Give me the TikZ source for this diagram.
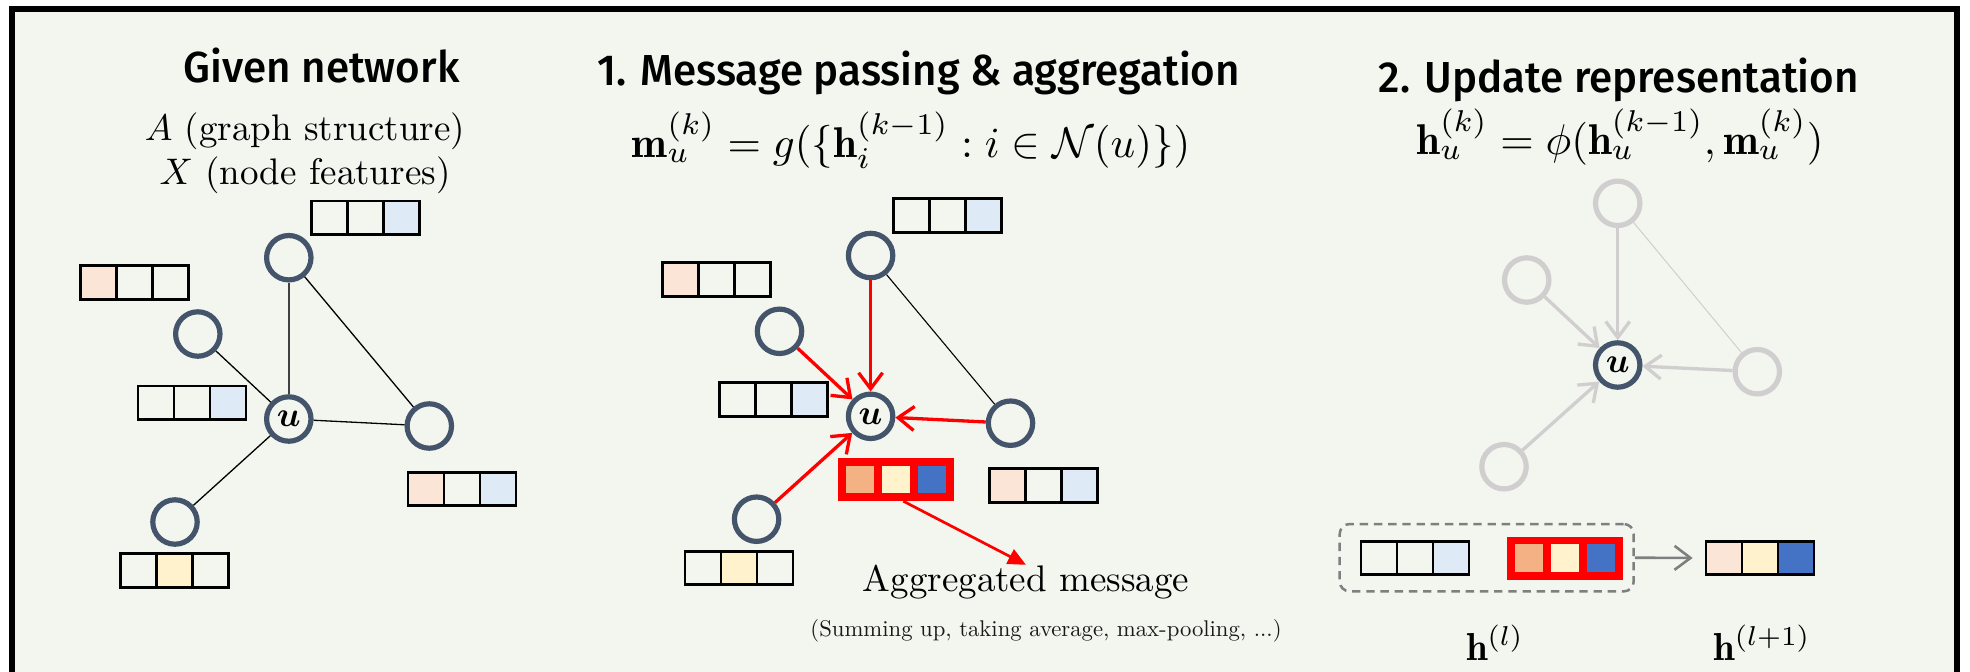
\RequirePackage{fix-cm}
\documentclass[tikz,border=0pt]{standalone}
\usepackage{amsmath}
\usepackage{graphicx}
\usepackage{fontspec}
\newfontfamily\headfont{Fira Sans Medium}[FakeStretch=0.97]
\usetikzlibrary{arrows.meta}

\definecolor{bg}{HTML}{F2F6EF}
\definecolor{nodecol}{HTML}{44546A}
\definecolor{fadecol}{HTML}{D0CECE}
\definecolor{peach}{HTML}{FBE5D6}
\definecolor{lblue}{HTML}{DEEBF7}
\definecolor{lyellow}{HTML}{FFF2CC}
\definecolor{orange}{HTML}{F4B183}
\definecolor{mblue}{HTML}{4472C4}
\definecolor{midgray}{HTML}{7F7F7F}

% three feature cells in a row: style, name, centre, three fills
\newcommand\cellrow[6]{%
  \node[#1, fill=#4] (#2-1) at ([xshift=-18pt]#3) {};
  \node[#1, fill=#5] (#2-2) at (#3) {};
  \node[#1, fill=#6] (#2-3) at ([xshift=18pt]#3) {};
}
% 10pt text enlarged as a whole
\newcommand\enl[2]{\scalebox{#1}{#2}}

\begin{document}
\begin{tikzpicture}[x=0.5pt,y=-0.5pt,
  gnode/.style={circle, draw=nodecol, line width=2.6pt, minimum size=22.2pt,
    inner sep=0pt, fill=bg},
  fadenode/.style={gnode, draw=fadecol},
  cell/.style={draw=black, line width=1.35pt, minimum width=18pt,
    minimum height=16.8pt, inner sep=0pt},
  redcell/.style={draw=red, line width=3.85pt, minimum width=18pt,
    minimum height=17.8pt, inner sep=0pt},
  headtxt/.style={anchor=base, inner sep=0pt,
    font=\headfont\fontsize{21.7}{26}\selectfont},
  txt/.style={anchor=base, inner sep=0pt},
  thinedge/.style={draw=black, line width=0.65pt},
  stemedge/.style={draw=black!75, line width=1pt},
  redarrow/.style={draw=red, line width=1.65pt,
    -{Straight Barb[length=8pt,width=12pt]}},
  fadearrow/.style={draw=fadecol, line width=1.65pt,
    -{Straight Barb[length=8pt,width=12pt]}},
  fadeedge/.style={draw=fadecol, line width=0.5pt},
  aggarrow/.style={draw=red, line width=1.35pt,
    -{Triangle[length=9pt,width=8pt]}},
  grayarrow/.style={draw=midgray, line width=1.3pt, shorten >=6pt,
    -{Straight Barb[length=8pt,width=12pt]}},
  dashbox/.style={draw=midgray, line width=1.25pt, rounded corners=5pt,
    dash pattern=on 4.2pt off 2.9pt, minimum width=147pt,
    minimum height=33.7pt, inner sep=0pt}
]
\useasboundingbox (0,0) rectangle (1970,671);
\clip (0,0) rectangle (1970,671);
\fill[white] (0,0) rectangle (1970,671);

% framed panel
\fill[bg] (11.5,9.2) rectangle (1957,700);
\draw[line width=3pt] (11.5,700) -- (11.5,9.2) -- (1957,9.2) -- (1957,700);

% ---------- headings and formulas ----------
\node[headtxt] (title1) at (321.7,82.2) {Given network};
\node[headtxt] (title2) at (918.7,85.6) {1. Message passing \& aggregation};
\node[headtxt] (title3) at (1618.8,92) {2. Update representation};

\node[txt] (inA) at (305,140.3) {\enl{1.85}{$A$ (graph structure)}};
\node[txt] (inX) at (305,184) {\enl{1.85}{$X$ (node features)}};

\node[txt] (fmsg) at (911,157)
  {\enl{2.15}{$\mathbf{m}_u^{(k)} = g(\{\mathbf{h}_i^{(k-1)} : i \in \mathcal{N}(u)\})$}};
\node[txt] (fupd) at (1620,154)
  {\enl{2.15}{$\mathbf{h}_u^{(k)} = \phi(\mathbf{h}_u^{(k-1)}, \mathbf{m}_u^{(k)})$}};

% ---------- given network ----------
\node[gnode] (n1t) at (288.8,257.7) {};
\node[gnode] (n1l) at (197.8,334) {};
\node[gnode] (n1u) at (288.8,419) {\enl{1.75}{$\boldsymbol{u}$}};
\node[gnode] (n1r) at (429.3,426) {};
\node[gnode] (n1b) at (175,522) {};

\draw[stemedge] (n1t) -- (n1u);
\draw[thinedge] (n1l) -- (n1u);
\draw[thinedge] (n1u) -- (n1r);
\draw[thinedge] (n1t) -- (n1r);
\draw[thinedge] (n1u) -- (n1b);

\cellrow{cell}{v1t}{365.7,217.7}{none}{none}{lblue}
\cellrow{cell}{v1ul}{134.3,282.5}{peach}{none}{none}
\cellrow{cell}{v1ml}{192,402.7}{none}{none}{lblue}
\cellrow{cell}{v1r}{462,489}{peach}{none}{lblue}
\cellrow{cell}{v1b}{174.3,570.5}{none}{lyellow}{none}

% ---------- message passing ----------
\node[gnode] (n2t) at (870.6,255.5) {};
\node[gnode] (n2l) at (779.5,331.3) {};
\node[gnode] (n2u) at (870.6,416.3) {\enl{1.75}{$\boldsymbol{u}$}};
\node[gnode] (n2r) at (1010.5,423.2) {};
\node[gnode] (n2b) at (756.6,519.2) {};

\draw[thinedge, line width=0.55pt] (n2t) -- (n2r);
\draw[redarrow] (n2t) -- (n2u);
\draw[redarrow] (n2l) -- (n2u);
\draw[redarrow] (n2r) -- (n2u);
\draw[redarrow] (n2b) -- (n2u);

\cellrow{cell}{v2t}{947.3,215.5}{none}{none}{lblue}
\cellrow{cell}{v2ul}{716.6,279.5}{peach}{none}{none}
\cellrow{cell}{v2ml}{773.8,399.5}{none}{none}{lblue}
\cellrow{cell}{v2r}{1043.7,485.5}{peach}{none}{lblue}
\cellrow{cell}{v2b}{738.9,568}{none}{lyellow}{none}
\cellrow{redcell}{agg}{896.3,479.5}{orange}{lyellow}{mblue}

\node[txt] (aggtxt) at (1026,591.7) {\enl{1.85}{Aggregated message}};
\node[txt, text=black!90] (aggnote) at (1046,636.5)
  {\enl{1.135}{(Summing up, taking average, max-pooling, ...)}};
\draw[aggarrow] ([xshift=3.5pt]agg-2.south) -- (aggtxt.north);

% ---------- update ----------
\node[fadenode] (n3t) at (1617.7,203.3) {};
\node[fadenode] (n3l) at (1526.7,280) {};
\node[fadenode] (n3r) at (1757.3,371.7) {};
\node[fadenode] (n3b) at (1504,466.7) {};
\node[gnode] (n3u) at (1617.7,365) {\enl{1.75}{$\boldsymbol{u}$}};

\draw[fadeedge] (n3t) -- (n3r);
\draw[fadearrow] (n3t) -- (n3u);
\draw[fadearrow] (n3l) -- (n3u);
\draw[fadearrow] (n3r) -- (n3u);
\draw[fadearrow] (n3b) -- (n3u);

\node[dashbox] (hold) at (1486.7,557.7) {};
\cellrow{cell}{v3a}{1415,558}{none}{none}{lblue}
\cellrow{redcell}{v3m}{1565,558.3}{orange}{lyellow}{mblue}
\cellrow{cell}{v3n}{1760,558}{peach}{lyellow}{mblue}
\draw[grayarrow] (hold.east) -- (v3n-1.west);

\node[txt] (hlab) at (1495,660) {\enl{1.95}{$\mathbf{h}^{(l)}$}};
\node[txt] (hlab1) at (1762,660) {\enl{1.95}{$\mathbf{h}^{(l+1)}$}};
\end{tikzpicture}
\end{document}
